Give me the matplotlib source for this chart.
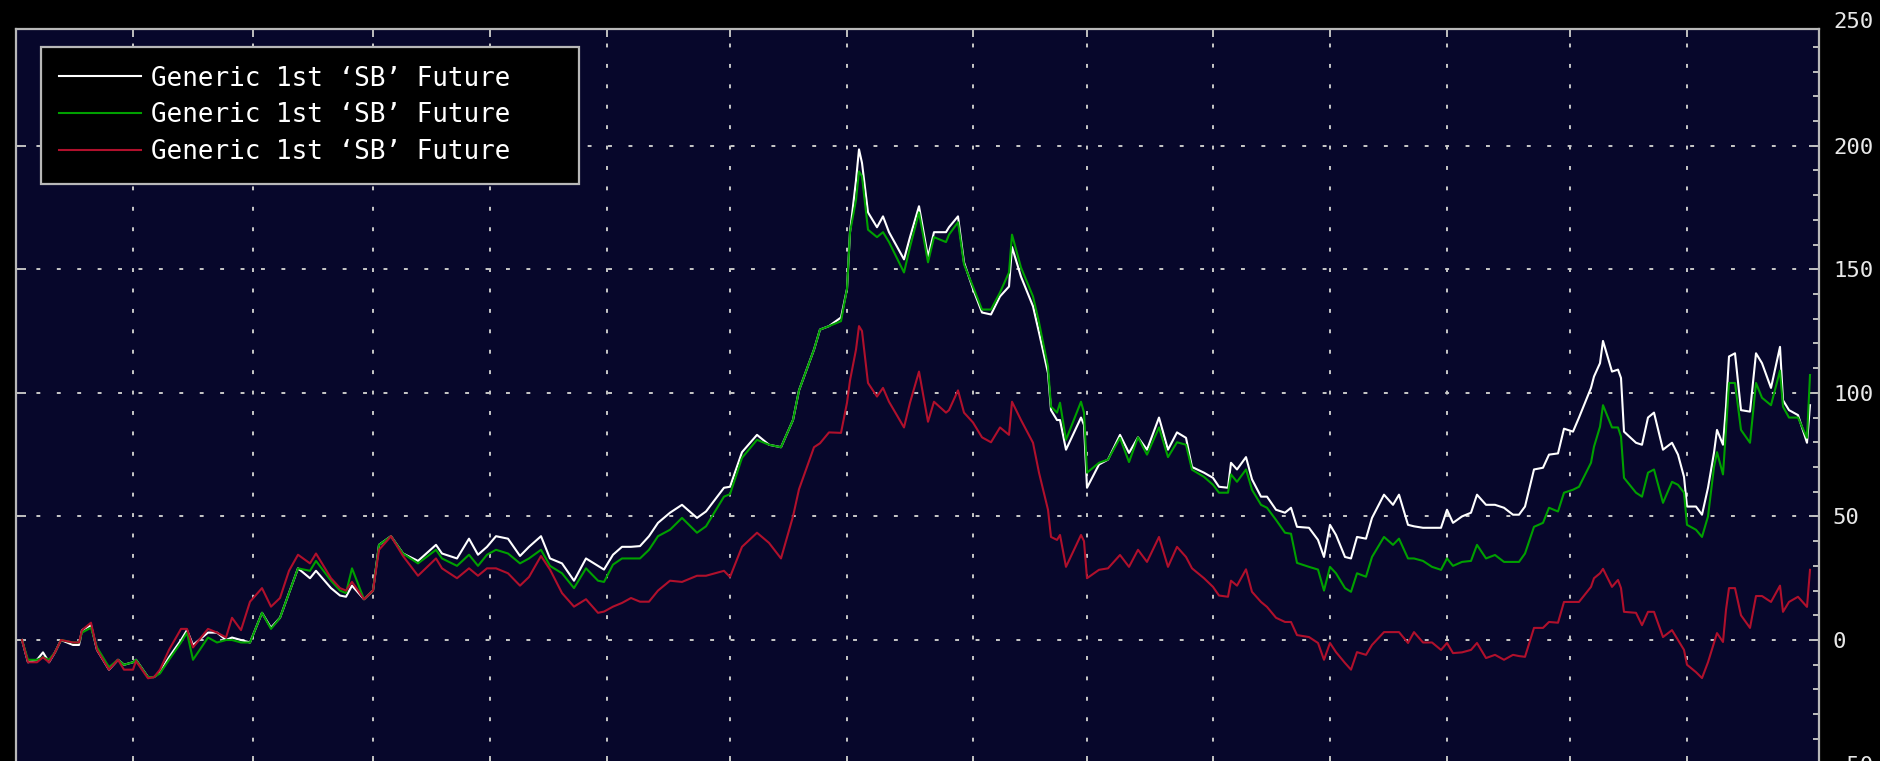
import matplotlib
matplotlib.use("Agg")
import matplotlib.pyplot as plt
import matplotlib.transforms as mtransforms
from matplotlib.ticker import MultipleLocator

plt.rcParams['font.family'] = ['DejaVu Sans Mono', 'DejaVu Sans']

# Trading-day index of each reading (chart starts at day 0)
days = [1, 2, 3.5, 4.5, 5.5, 6.5, 7.5, 9.5, 10.5, 11, 12.5, 13.5, 15.5, 17, 18, 19.5, 20, 22, 23, 24,
        25.5, 27.5, 28.5, 29.5, 32, 33.5, 35, 36, 37.5, 39, 41, 42.5, 44, 45.5, 47, 49, 50, 52.5, 54, 55,
        56, 58, 59.5, 60.5, 62.5, 64.5, 67, 70, 71, 73.5, 75.5, 77, 78.5, 80, 82, 84, 85.5, 87.5, 89, 91,
        93, 95, 97, 98, 99.5, 101, 102.5, 104, 105.5, 107, 109, 111, 113.5, 115, 118, 119, 121, 123.5, 125.5, 127.5,
        129.5, 130.5, 133, 134, 135.5, 137.5, 138.5, 139, 140, 140.5, 141, 142, 143.5, 144.5, 145.5, 148, 149, 150.5, 152, 153,
        155, 155.5, 157, 158, 159.5, 161, 162.5, 164, 165.5, 166, 167.5, 169.5, 170.5, 172, 172.5, 173.5, 174, 175, 177.5, 178,
        178.5, 180.5, 182, 184, 185.5, 187, 188.5, 190.5, 192, 193.5, 195, 196, 198, 199.5, 200.5, 202, 202.5, 203.5, 205, 206,
        207.5, 208.5, 210, 211.5, 212.5, 213.5, 215.5, 217, 218, 219, 220, 221.5, 222.5, 223.5, 225, 226, 228, 229.5, 230.5, 232,
        233, 234.5, 236, 237.5, 238.5, 239.5, 241, 242.5, 243.5, 245, 246.5, 248, 249.5, 250.5, 251.5, 253, 254.5, 255.5, 257, 258,
        259.5, 260.5, 262.5, 263, 264, 264.5, 266, 267, 267.5, 268, 270, 271, 272, 273, 274.5, 276, 277, 278, 278.5, 280,
        281, 282, 283, 283.5, 284.5, 285, 285.5, 286.5, 287.5, 289, 290, 291, 292.5, 294, 294.5, 295.5, 297, 298.5, 299]

# Series values (percent change)
white = [0, -9, -8, -5, -9, -5, 0, -2, -2, 4, 6, -4, -12, -8, -10, -9, -8, -15, -15, -13,
         -7, 0, 4, -2, 3, 3, 0, 1, 0, -1, 11, 5, 9, 19, 29, 25, 28, 21, 18, 17.5,
         22, 16.5, 20, 38.5, 42, 35, 32, 38.5, 35, 33, 41, 34.5, 37.7, 42, 41, 34, 37.7, 42, 33, 31,
         24, 33, 30, 28.5, 34.5, 37.7, 37.7, 38, 42, 47.4, 51.5, 54.7, 49.4, 52, 61.6, 62, 76, 83, 79, 78,
         89, 101, 117.5, 125.6, 127, 130.5, 142, 165, 186, 198.5, 193, 173, 167, 171.4, 165, 154, 163, 175.5, 155, 165,
         165, 167, 171.4, 152.8, 142, 132.5, 131.7, 139, 143, 159, 147, 135, 124.4, 108, 93, 89, 89, 77, 90, 87,
         61.6, 71, 73, 83, 75.7, 82, 77, 90, 77, 84, 81.8, 70, 67.7, 65.6, 62, 61.6, 71.7, 69, 74, 65,
         58, 58, 52.7, 51.5, 53.5, 45.8, 45.4, 40.5, 33.6, 46.6, 42.5, 33.6, 33, 41.7, 41, 49.4, 58.8, 54.7, 58.8, 46.6,
         46, 45.4, 45.4, 45.4, 52.7, 47.4, 50, 51.5, 58.8, 54.7, 54.7, 53.5, 50.7, 50.7, 54, 69, 69.7, 75, 75.5, 85.5,
         84.3, 90, 102, 106.6, 112, 121, 108.6, 109.4, 106, 84.3, 79.8, 79, 90, 92, 77, 79.8, 75, 66, 54, 54,
         50.7, 61.6, 75.8, 85, 79, 94.4, 114.7, 116, 93, 92.4, 116, 112, 102, 118.6, 97, 93, 91, 79.8, 95]

green = [0, -8, -8, -7, -8, -5, 0, -1, -1, 3, 5, -3, -11, -8, -10, -9, -8, -15, -15, -13.5,
         -8, -1, 3, -8, 1, -1, 0, 0, -1, -1, 11, 4.5, 9, 19, 29, 28, 32, 24, 20, 19,
         29, 16.5, 20, 38.5, 42, 35, 31, 36.5, 33, 30, 34.5, 30, 34.5, 36.5, 35, 31, 33, 36.5, 30, 27,
         21, 29, 24, 23.5, 30.5, 33, 33, 33, 36.5, 42, 44.6, 49.4, 43.4, 46, 58, 59, 73.7, 81, 79, 78,
         89, 101, 117.5, 125.6, 127, 129, 142, 165, 178, 189.6, 187.6, 166, 163, 165, 161, 148.7, 159, 173, 152.8, 163,
         161, 164, 169, 152, 143, 133.7, 133.7, 140.6, 148.7, 164, 150.7, 139, 128.5, 110.6, 94.4, 92, 96, 81, 96.4, 92,
         67.7, 71.7, 73, 81.8, 72, 82, 75, 86, 74, 80, 79, 68.9, 66, 62.8, 59.6, 59.6, 67, 64, 69, 60.8,
         54.7, 53.5, 48.6, 43.4, 43, 31.2, 29.6, 28.5, 20, 29.6, 27, 21, 19.5, 27, 25.6, 33.6, 41.7, 38.5, 41, 33,
         33, 32, 29.6, 28.4, 33, 30, 31.6, 32, 38.5, 33, 34.4, 31.6, 31.6, 31.6, 35, 45.8, 47.4, 53.5, 52, 59.6,
         60.8, 62, 71.7, 78.2, 86.3, 95, 86, 86, 82.3, 65.6, 59.6, 58, 67.7, 69, 55.5, 64, 62.8, 59.6, 46.6, 44.6,
         41.7, 50, 70, 76, 67, 85, 104, 104, 85, 79.8, 104, 98, 95, 109, 94.4, 90, 90, 81.8, 107.2]

red = [0, -9, -9, -7, -9, -5, 0, -1, -1, 4, 7, -4, -12, -8, -12, -12, -8.5, -15.5, -15, -12,
       -4, 4.5, 4.5, -3, 4.5, 3, 1, 9, 4, 15.5, 21, 13.5, 17, 28, 34.5, 31, 35, 25, 21, 20,
       23.5, 16.5, 20, 36.5, 42, 34, 26, 33, 29, 25, 29, 26, 29, 29, 27, 22, 25.5, 34, 28.5, 19,
       13.5, 16.5, 11, 11.5, 13.5, 15, 17, 15.5, 15.5, 20, 24, 23.5, 26, 26, 28, 25.5, 37.7, 43.4, 39.3, 33,
       50, 61, 78, 79.6, 84, 83.8, 96, 105, 117.5, 127, 125, 104, 98.5, 102, 96.4, 86, 96, 108.6, 88.3, 96.4,
       92, 93, 101, 92, 88, 82, 80, 86, 83, 96.4, 89, 79.8, 67.7, 52.7, 41.7, 40.5, 42.5, 29.6, 42.5, 40,
       25, 28.4, 29, 34.4, 29.6, 36.5, 31.6, 41.7, 29.6, 37.7, 33.6, 29, 25, 21.5, 18, 17.5, 24, 22, 28.6, 19.5,
       15.4, 13.4, 9, 7.3, 7.3, 2, 1.2, -1.2, -8, -1.2, -4.9, -9.3, -12, -4.9, -6, -2, 3.2, 3.2, 3.2, -1.2,
       3.2, -1, -1, -4, -1.2, -5.3, -5, -4, -1.2, -7.3, -6, -8, -6, -6.5, -6.8, 4.9, 4.9, 7.3, 7, 15.4,
       15.4, 15.4, 21.5, 25, 27, 28.8, 21.5, 24.3, 21, 11.4, 11, 6, 11.4, 11.4, 1.2, 4, 0, -4, -10, -13,
       -15.4, -9, -1.2, 2.8, -0.8, 12.2, 21, 21, 10, 4.9, 17.8, 17.8, 15.4, 22, 11.4, 15.4, 17.5, 13.4, 28.4]

# Month boundaries (vertical grid)
month_days = [19.5, 39.5, 59.5, 79, 98.5, 119, 138.5, 159.5, 178.5, 199.5, 219, 238.5, 259, 278.5]
y_ticks = [-50, 0, 50, 100, 150, 200]
top_label = 250
label = "Generic 1st \u2018SB\u2019 Future"

fig = plt.figure(figsize=(18.81, 7.61), dpi=100, facecolor='black')
# plot frame: left 16px, right 1819px, top 29px, bottom just below the picture
ax = fig.add_axes([16 / 1881, -2.6 / 761, 1803 / 1881, 734.6 / 761])
ax.set_facecolor('#07072b')

ax.plot(days, white, color='white', lw=1.5, label=label)
ax.plot(days, green, color='#00a000', lw=1.5, label=label)
ax.plot(days, red, color='#b0102c', lw=1.5, label=label)

ax.set_xlim(0, 300.5)
ax.set_ylim(-50, 247.2)

# Axes, ticks and grid
ax.set_xticks(month_days)
ax.set_yticks(y_ticks)
ax.yaxis.set_minor_locator(MultipleLocator(10))
ax.yaxis.tick_right()
ax.tick_params(axis='x', which='both', top=True, bottom=True, direction='in', length=6,
               color='#c0c0c0', width=1.4, labelbottom=False)
ax.tick_params(axis='y', which='major', left=True, right=True, direction='in', length=7,
               color='#c0c0c0', width=1.4, labelright=True, labelleft=False,
               labelsize=16, labelcolor='#e8e8e8', pad=10)
ax.tick_params(axis='y', which='minor', right=True, direction='in', length=4,
               color='#c0c0c0', width=1.4)
ax.grid(True, which='major', color='#c8c8c8', lw=1.4, ls=(0, (2, 8.5)))
for s in ax.spines.values():
    s.set_color('#b8b8b8')
    s.set_linewidth(1.6)

# the top scale value sits just above the frame
trans = mtransforms.blended_transform_factory(ax.transAxes, ax.transData)
ax.text(1 + 14 / 1803, top_label, str(top_label), transform=trans, ha='left', va='center',
        fontsize=16, color='#e8e8e8', clip_on=False)

# legend box stretched to the width of the original (extra room on the right)
leg = ax.legend(loc='upper left', bbox_to_anchor=(0.0139, 0.975, 0.2984, 0.0), mode='expand',
                borderaxespad=0, fontsize=18.7, handlelength=3.15, handletextpad=0.38,
                labelspacing=0.42, borderpad=0.7, fancybox=False, framealpha=1,
                facecolor='black', edgecolor='#b8b8b8', labelcolor='white')
leg.get_frame().set_linewidth(1.6)

fig.savefig('out.png', dpi=100, facecolor='black')
